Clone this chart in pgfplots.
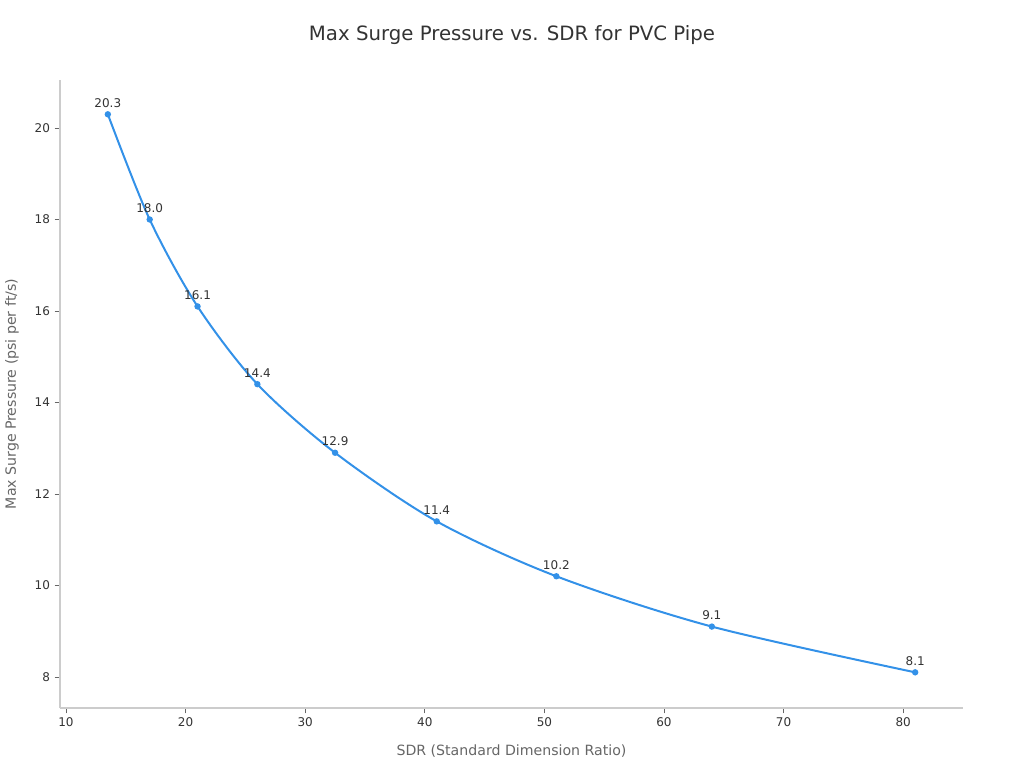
\documentclass[border=0pt]{standalone}
\usepackage{pgfplots}
\pgfplotsset{compat=1.18}
\usepackage{fontspec}
\setmainfont{DejaVu Sans}
\definecolor{lineblue}{HTML}{3391E8}
\definecolor{spine}{HTML}{CCCCCC}
\definecolor{txt}{HTML}{333333}
\definecolor{lab}{HTML}{666666}
\begin{document}
\begin{tikzpicture}[x=0.75pt,y=0.75pt]
\useasboundingbox (0,0) rectangle (1024,768);
\node[font=\fontsize{14.8}{17}\selectfont, text=txt] at (512,733) {Max Surge Pressure vs. SDR for PVC Pipe};
\begin{axis}[
  at={(60*0.75pt,60*0.75pt)}, anchor=south west,
  scale only axis, width=677.25pt, height=471pt,
  xmin=9.5, xmax=85, ymin=7.32, ymax=21.05,
  axis x line*=bottom, axis y line*=left,
  axis line style={spine, line width=0.8pt, -},
  xtick={10,20,...,80}, ytick={8,10,...,20},
  tick style={lab, line width=0.6pt},
  tick align=outside, major tick length=4pt,
  ticklabel style={font=\fontsize{9}{10}\selectfont, text=txt},
  /pgf/number format/assume math mode=true,
  xlabel={SDR (Standard Dimension Ratio)},
  ylabel={Max Surge Pressure (psi per ft/s)},
  every axis x label/.style={at={(axis description cs:0.5,-0.0685)}, anchor=center, font=\fontsize{10.6}{12}\selectfont, text=lab},
  every axis y label/.style={at={(axis description cs:-0.0532,0.5)}, anchor=center, rotate=90, font=\fontsize{10.6}{12}\selectfont, text=lab},
  clip=false,
]
\addplot[lineblue, line width=1.5pt, smooth, tension=0.5, mark=*, mark size=1.6pt, mark options={fill=lineblue, draw=lineblue},
  nodes near coords, point meta=explicit symbolic,
  every node near coord/.append style={font=\fontsize{9}{10}\selectfont, text=txt, yshift=1pt}]
  table[meta=lab] {
x y lab
13.5 20.3 20.3
17 18.0 18.0
21 16.1 16.1
26 14.4 14.4
32.5 12.9 12.9
41 11.4 11.4
51 10.2 10.2
64 9.1 9.1
81 8.1 8.1
};
\end{axis}
\end{tikzpicture}
\end{document}
